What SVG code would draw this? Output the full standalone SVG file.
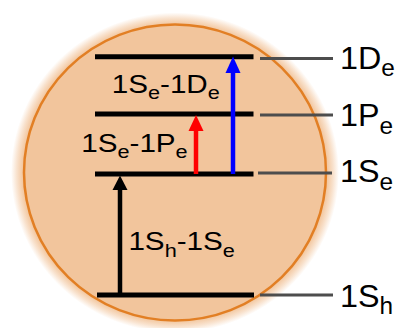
<svg xmlns="http://www.w3.org/2000/svg" width="396" height="328" viewBox="0 0 396 328">
  <defs>
    <radialGradient id="glow" cx="0.5" cy="0.5" r="0.5">
      <stop offset="0" stop-color="#F2C59C"/>
      <stop offset="0.925" stop-color="#F2C59C"/>
      <stop offset="0.965" stop-color="#F2C59C" stop-opacity="0.5"/>
      <stop offset="1" stop-color="#F2C59C" stop-opacity="0"/>
    </radialGradient>
  </defs>
  <style>
    .lvl { stroke: #000; stroke-width: 5; fill: none; }
    .lead { stroke: #4d4d4d; stroke-width: 3; fill: none; }
    .lbl { font-family: "Liberation Sans", Arial, sans-serif; font-size: 30.5px; fill: #000; }
    .tl { font-family: "Liberation Sans", Arial, sans-serif; font-size: 26px; fill: #000; }
    .sub { font-size: 23px; }
    .tsub { font-size: 19px; }
    .shaft { stroke-width: 4.5; fill: none; }
  </style>

  <g id="particle">
    <ellipse cx="175" cy="172.5" rx="164" ry="160" fill="url(#glow)"/>
    <ellipse cx="175" cy="172.5" rx="151" ry="148" fill="#F2C59C" stroke="#E27F24" stroke-width="2.5"/>
  </g>

  <g id="level-1De">
    <line class="lvl" x1="95" y1="56.7" x2="253.5" y2="56.7"/>
    <line class="lead" x1="260" y1="58.5" x2="333" y2="58.5"/>
    <text class="lbl" transform="translate(340,68.5) scale(1.06,1)">1D<tspan class="sub" dy="7.5">e</tspan></text>
  </g>

  <g id="level-1Pe">
    <line class="lvl" x1="95" y1="114" x2="253.5" y2="114"/>
    <line class="lead" x1="260" y1="115" x2="333" y2="115"/>
    <text class="lbl" transform="translate(340,126) scale(1.06,1)">1P<tspan class="sub" dy="7.5">e</tspan></text>
  </g>

  <g id="level-1Se">
    <line class="lvl" x1="95" y1="174" x2="253.5" y2="174"/>
    <line class="lead" x1="258" y1="173" x2="332" y2="173"/>
    <text class="lbl" transform="translate(340,182.3) scale(1.06,1)">1S<tspan class="sub" dy="7.5">e</tspan></text>
  </g>

  <g id="level-1Sh">
    <line class="lvl" x1="97" y1="295" x2="254" y2="295"/>
    <line class="lead" x1="260" y1="295" x2="333" y2="295"/>
    <text class="lbl" transform="translate(340,306.6) scale(1.06,1)">1S<tspan class="sub" dy="7">h</tspan></text>
  </g>

  <g id="connectors">
    <g id="arrow-1Sh-1Se">
      <line class="shaft" stroke="#000" x1="120" y1="295" x2="120" y2="189"/>
      <polygon fill="#000" points="112.5,190 120,175.5 127.5,190"/>
      <text class="tl" transform="translate(128.4,250) scale(1.14,1)">1S<tspan class="tsub" dy="6.5">h</tspan><tspan dy="-6.5">-1S</tspan><tspan class="tsub" dy="6.5">e</tspan></text>
    </g>
    <g id="arrow-1Se-1Pe">
      <line class="shaft" stroke="#FF0000" x1="196" y1="174" x2="196" y2="130"/>
      <polygon fill="#FF0000" points="188.5,131 196,115 203.5,131"/>
      <text class="tl" transform="translate(81.25,151.7) scale(1.14,1)">1S<tspan class="tsub" dy="6.5">e</tspan><tspan dy="-6.5">-1P</tspan><tspan class="tsub" dy="6.5">e</tspan></text>
    </g>
    <g id="arrow-1Se-1De">
      <line class="shaft" stroke="#0000FF" x1="233" y1="174" x2="233" y2="72"/>
      <polygon fill="#0000FF" points="225.5,73 233,56.5 240.5,73"/>
      <text class="tl" transform="translate(111.75,92.5) scale(1.14,1)">1S<tspan class="tsub" dy="6.5">e</tspan><tspan dy="-6.5">-1D</tspan><tspan class="tsub" dy="6.5">e</tspan></text>
    </g>
  </g>
</svg>
